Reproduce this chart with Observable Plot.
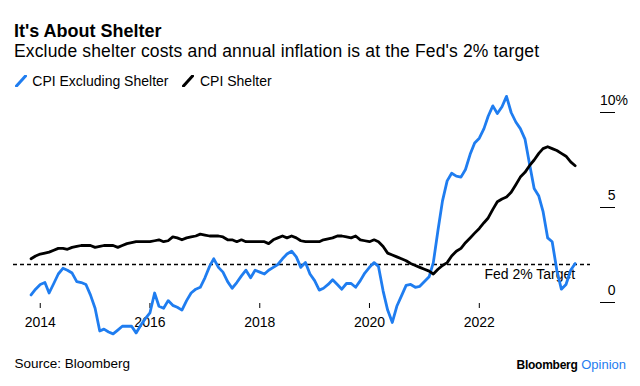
<!DOCTYPE html>
<html>
<head>
<meta charset="utf-8">
<script src="https://cdn.jsdelivr.net/npm/d3@7"></script>
<script src="https://cdn.jsdelivr.net/npm/@observablehq/plot@0.6"></script>
<style>
  html, body { margin: 0; padding: 0; background: #fff; }
  #wrap { position: relative; width: 640px; height: 386px; overflow: hidden; font-family: "Liberation Sans", Arial, sans-serif; color: #000; }
  .t { position: absolute; white-space: nowrap; line-height: 1; }
  #title { left: 14px; top: 21.5px; font-size: 18px; font-weight: bold; }
  #subtitle { left: 14px; top: 43.2px; font-size: 17.5px; letter-spacing: 0.15px; }
  .lg { top: 74.2px; font-size: 14px; }
  .sw { position: absolute; top: 75px; }
  #source { left: 14.5px; top: 357.4px; font-size: 13.5px; }
  #brand { right: 14px; top: 357.6px; font-size: 13px; }
  #brand b { font-size: 12px; letter-spacing: -0.25px; }
  #brand span { color: #1f7df0; }
  #chart { position: absolute; left: 0; top: 90px; }
</style>
</head>
<body>
<div id="wrap">
  <div class="t" id="title">It's About Shelter</div>
  <div class="t" id="subtitle">Exclude shelter costs and annual inflation is at the Fed's 2% target</div>
  <svg class="sw" style="left:14.5px" width="12" height="12"><line x1="1.5" y1="11" x2="10.5" y2="1" stroke="#1f7df0" stroke-width="3" stroke-linecap="round"/></svg>
  <div class="t lg" style="left:32.3px">CPI Excluding Shelter</div>
  <svg class="sw" style="left:181.5px" width="12" height="12"><line x1="1.5" y1="11" x2="10.5" y2="1" stroke="#000" stroke-width="3" stroke-linecap="round"/></svg>
  <div class="t lg" style="left:200px">CPI Shelter</div>
  <div id="chart"></div>
  <div class="t" id="source">Source: Bloomberg</div>
  <div class="t" id="brand"><b>Bloomberg</b> <span>Opinion</span></div>
</div>
<script>
// Monthly observations, Oct 2013 – Sep 2023 (plotted at month end)
const seriesNames = ["CPI Excluding Shelter", "CPI Shelter"];
const cpiExShelter = [
  0.4, 0.7, 0.95, 1.05, 0.5, 1.0, 1.5, 1.8, 1.7, 1.55,
  1.1, 1.05, 0.95, 0.4, -0.3, -1.5, -1.4, -1.55, -1.65, -1.45,
  -1.25, -1.25, -1.25, -1.6, -1.2, -0.85, -0.55, 0.5, -0.2, -0.3,
  0.1, -0.15, -0.25, -0.4, 0.1, 0.5, 0.7, 0.8, 1.3, 1.9,
  2.3, 1.85, 1.6, 1.1, 0.75, 1.05, 1.4, 1.7, 1.3, 1.7,
  1.6, 1.5, 1.7, 1.85, 2.0, 2.3, 2.55, 2.7, 2.4, 1.85,
  2.1, 1.5, 1.15, 0.65, 0.75, 0.95, 1.2, 0.95, 0.7, 1.0,
  1.0, 0.8, 1.15, 1.55, 1.85, 2.1, 1.9, 0.6, -0.4, -1.05,
  -0.2, 0.35, 0.9, 0.95, 0.8, 0.85, 1.1, 1.35, 2.1, 3.8,
  5.35, 6.4, 6.8, 6.65, 6.6, 7.0, 7.8, 8.4, 8.65, 9.15,
  9.8, 10.35, 9.95, 10.3, 10.85, 10.0, 9.5, 9.15, 8.6, 7.3,
  6.0, 5.6, 4.8, 3.4, 3.2, 1.7, 0.7, 0.95, 1.7, 2.05
];
const cpiShelter = [
  2.3, 2.45, 2.55, 2.6, 2.65, 2.75, 2.85, 2.85, 2.8, 2.9,
  2.95, 3.0, 3.0, 3.0, 2.9, 2.95, 3.0, 3.0, 3.0, 2.9,
  3.0, 3.1, 3.15, 3.2, 3.2, 3.2, 3.2, 3.25, 3.3, 3.2,
  3.25, 3.45, 3.4, 3.3, 3.4, 3.45, 3.5, 3.6, 3.55, 3.5,
  3.5, 3.5, 3.45, 3.3, 3.3, 3.2, 3.3, 3.2, 3.2, 3.2,
  3.2, 3.2, 3.1, 3.3, 3.4, 3.5, 3.4, 3.5, 3.4, 3.25,
  3.2, 3.2, 3.2, 3.2, 3.3, 3.35, 3.4, 3.5, 3.5, 3.45,
  3.4, 3.5, 3.3, 3.25, 3.2, 3.3, 3.2, 2.95, 2.6, 2.5,
  2.4, 2.3, 2.2, 2.05, 1.95, 1.85, 1.75, 1.65, 1.5, 1.75,
  1.95, 2.1, 2.45, 2.7, 2.85, 3.15, 3.4, 3.65, 3.9, 4.2,
  4.45, 4.9, 5.3, 5.45, 5.55, 5.8, 6.2, 6.6, 6.85, 7.2,
  7.5, 7.85, 8.1, 8.2, 8.1, 8.0, 7.85, 7.7, 7.4, 7.2
];
const xTickYears = [2014, 2016, 2018, 2020, 2022];
const yTicks = [0, 5, 10];
const fedTarget = 2;
const fedLabel = "Fed 2% Target";

const blue = "#1f7df0";
// month-end positions (first day of following month)
const dates = d3.utcMonth.range(new Date(Date.UTC(2013, 10, 1)), new Date(Date.UTC(2023, 10, 1)));
const rowsEx = dates.map((d, i) => ({date: d, value: cpiExShelter[i], series: seriesNames[0]}));
const rowsSh = dates.map((d, i) => ({date: d, value: cpiShelter[i], series: seriesNames[1]}));

const chart = Plot.plot({
  width: 640,
  height: 250,
  marginLeft: 13,
  marginRight: 50,
  marginTop: 22,
  marginBottom: 38,
  style: {fontFamily: "Liberation Sans, Arial, sans-serif", fontSize: "14px", color: "#000", background: "transparent", overflow: "visible"},
  x: {type: "utc", domain: [new Date(Date.UTC(2013, 6, 7)), new Date(Date.UTC(2024, 0, 11))]},
  y: {domain: [0, 10]},
  marks: [
    Plot.axisX({ticks: xTickYears.map(y => new Date(Date.UTC(y, 0, 1))), tickFormat: d3.utcFormat("%Y"), tickSize: 5, tickPadding: 9, dy: 1, fontSize: 14, label: null}),
    Plot.axisY({anchor: "right", ticks: yTicks, tickSize: 15, dx: 9, tickFormat: () => "", label: null}),
    Plot.axisY({anchor: "right", ticks: yTicks, tickSize: 0, tickPadding: 25, textAnchor: "end", dy: -12, tickFormat: d => String(d), fontSize: 14, label: null}),
    Plot.text([yTicks[yTicks.length - 1]], {y: d => d, text: () => "%", frameAnchor: "right", dx: 25, dy: -12, textAnchor: "start", fontSize: 14}),
    Plot.ruleY([fedTarget], {stroke: "#000", strokeWidth: 1.3, strokeDasharray: "4,3"}),
    Plot.text([{date: dates[dates.length - 1], value: fedTarget, label: fedLabel}], {x: "date", y: "value", text: "label", textAnchor: "end", dy: 10, fontSize: 14}),
    Plot.lineY(rowsEx, {x: "date", y: "value", stroke: blue, strokeWidth: 2.8, strokeLinejoin: "round", strokeLinecap: "round"}),
    Plot.lineY(rowsSh, {x: "date", y: "value", stroke: "#000", strokeWidth: 2.8, strokeLinejoin: "round", strokeLinecap: "round"})
  ]
});
document.getElementById("chart").appendChild(chart);
</script>
</body>
</html>
